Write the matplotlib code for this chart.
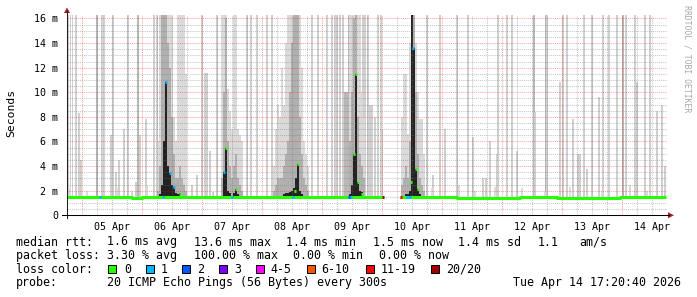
import matplotlib
matplotlib.use("Agg")
import matplotlib.pyplot as plt
from matplotlib.patches import Rectangle, Polygon
from matplotlib.lines import Line2D
import numpy as np

plt.rcParams['font.family'] = ['DejaVu Sans Mono']

# ---------------- data (time in hours since 05 Apr 00:00, rtt in ms) ----------------
day_labels = ["05 Apr", "06 Apr", "07 Apr", "08 Apr", "09 Apr",
              "10 Apr", "11 Apr", "12 Apr", "13 Apr", "14 Apr"]
y_ticks = [0, 2, 4, 6, 8, 10, 12, 14, 16]
y_tick_labels = ["0", "2 m", "4 m", "6 m", "8 m", "10 m", "12 m", "14 m", "16 m"]

# thin smoke lines: time, max rtt, density (1 = few pings high, 2 = several)
line_t = [-5.6, -4.7, -3.9, -2.4, -1.2, -0.4, 6.0, 8.0, 8.8, 11.6, 12.4, 13.6, 14.8,
          16.8, 18.4, 21.6, 22.4, 23.2, 25.6, 28.8, 30.0, 44.0, 46.0, 48.0, 49.2,
          50.0, 51.2, 52.4, 54.0, 66.0, 67.6, 70.0, 74.0, 76.0, 92.0, 94.4, 98.0,
          100.0, 101.2, 102.0, 103.2, 104.4, 105.2, 106.0, 106.8, 112.4, 113.2,
          114.4, 115.2, 116.0, 117.2, 118.4, 119.6, 120.0, 138.0, 140.4, 143.2,
          145.2, 150.0, 154.4, 156.4, 160.4, 161.6, 163.2, 166.0, 166.4, 170.0,
          172.0, 174.0, 180.8, 181.2, 185.6, 186.0, 191.2, 192.4, 194.0, 196.4,
          198.4, 199.2, 200.8, 202.0, 204.0, 206.8, 208.4, 210.8, 214.0, 216.4,
          217.6, 221.2, 222.0, 225.2, 227.2, 230.0, 232.0, 233.2]
line_max = [18, 18, 18, 18, 8.3, 4.5, 18, 18, 18, 6.5, 18, 3.5, 4.5,
            7.0, 18, 2.7, 18, 6.5, 7.8, 18, 18, 2.5, 3.3, 18, 11.6,
            11.6, 5.2, 1.9, 18, 18, 18, 18, 18, 18, 18, 18, 18,
            18, 18, 18, 18, 18, 10, 10, 18, 18, 18,
            18, 9, 9, 8, 18, 18, 7, 18, 3.3, 18,
            7, 18, 18, 6.4, 3, 3, 6, 5, 18, 18,
            18, 5.2, 18, 8.4, 18, 18, 10.8, 18, 18, 7.8,
            5, 5, 18, 3.8, 18, 9.6, 18, 18, 18, 18,
            18, 18, 10.8, 18, 18, 8.5, 9, 4]
line_dens = [1, 1, 1, 1, 1, 1, 2, 1, 1, 1, 1, 1, 1,
             1, 1, 1, 2, 1, 1, 1, 1, 1, 1, 1, 1,
             1, 1, 1, 1, 1, 1, 1, 1, 1, 1, 1, 1,
             1, 1, 1, 1, 1, 2, 2, 2, 1, 1,
             1, 1, 1, 1, 1, 1, 1, 1, 1, 1,
             1, 1, 1, 1, 1, 1, 1, 1, 1, 1,
             1, 1, 2, 1, 2, 1, 1, 1, 1, 1,
             1, 1, 1, 1, 1, 1, 1, 1, 1, 2,
             1, 1, 1, 1, 1, 1, 1, 1]

# low smoke bumps near the baseline
low_t = [-5.0, 2.0, 14.0, 20.0, 26.0, 140.0, 150.8, 157.0, 165.0, 176.0, 185.0,
         195.0, 208.0, 219.0, 226.0]
low_max = [2.2, 2.0, 2.2, 2.0, 2.4, 2.2, 2.5, 2.0, 2.3, 2.2, 2.0, 2.3, 2.0, 2.5, 2.0]

# dense smoke columns during the congestion episodes: time, outer / middle / inner ping tops
col_t = [30.4, 31.2, 32.0, 32.8, 33.6, 34.4, 35.2, 36.0, 36.8, 37.6, 38.4, 39.2, 40.0, 40.8, 41.6,
         56.0, 56.8, 57.6, 58.4, 59.2, 60.0, 60.8, 61.6, 62.4, 63.2, 64.0,
         76.8, 77.6, 78.4, 79.2, 80.0, 80.8, 81.6, 82.4, 83.2, 84.0, 84.8, 85.6, 86.4, 87.2,
         88.0, 88.8, 89.6, 90.4,
         107.2, 108.0, 108.8, 109.6, 110.4, 111.2, 112.0, 112.8,
         128.0, 128.8, 129.6, 130.4, 131.2, 132.0, 132.8, 133.6, 134.4, 135.2, 136.0, 136.8]
col_light = [6, 18, 18, 18, 18, 18, 18, 18, 8, 6, 18, 18, 18, 18, 11.5,
             18, 18, 18, 10.3, 8.5, 7, 18, 18, 7, 6.5, 6,
             4, 7, 9, 8, 12, 9, 14, 18, 18, 18, 18, 18, 18, 18,
             12, 6, 5, 4,
             18, 18, 18, 18, 18, 18, 10, 8,
             8, 11.5, 11.5, 6.6, 14, 18, 18, 14, 10, 7.8, 7.8, 5]
col_mid = [2, 4, 18, 18, 18, 14, 12, 8, 5, 3, 3, 4, 3, 2.5, 2,
           3, 10, 16, 6, 4, 3, 4, 5, 3, 2.5, 2,
           2, 2.5, 3, 3, 3, 4, 5, 6, 10, 14, 18, 18, 18, 8,
           5, 3, 2.5, 2,
           6, 10, 16, 18, 8, 5, 4, 3,
           2.5, 3, 4, 3, 6, 18, 18, 10, 5, 3, 2.5, 2]
col_dark = [1.6, 1.7, 2.5, 6, 10.8, 4, 3.4, 2.5, 2.3, 1.8, 1.7, 1.8, 1.6, 1.6, 1.6,
            1.6, 3.5, 5.5, 2, 1.8, 1.6, 1.8, 2.1, 1.7, 1.6, 1.6,
            1.6, 1.6, 1.6, 1.6, 1.6, 1.7, 1.8, 1.8, 1.9, 2.0, 2.2, 3, 4.2, 2,
            1.7, 1.6, 1.6, 1.6,
            1.7, 2.5, 5.0, 11.5, 2.7, 2.0, 1.9, 1.6,
            1.6, 1.6, 1.7, 1.7, 2, 18, 13.6, 3.8, 2.1, 1.7, 1.6, 1.6]

# median rtt baseline (step knots), NaN = no data
base_t = [-6, 20, 24, 31, 42, 56, 64, 84, 90, 106, 112, 120.4, 127.2, 133, 150, 175,
          190, 215, 233.4]
base_v = [1.45, 1.42, 1.45, 1.48, 1.45, 1.48, 1.45, 1.48, 1.45, 1.5, 1.45, np.nan,
          1.45, 1.45, 1.42, 1.45, 1.42, 1.45, 1.45]

# median values that rose above the baseline, with loss class index
tip_t = [33.6, 35.0, 36.8, 39.2, 56.8, 57.6, 61.6, 85.0, 86.4, 108.8, 109.6, 110.4,
         112.0, 131.6, 132.4, 133.6, 134.4]
tip_v = [10.8, 3.4, 2.3, 1.7, 3.5, 5.5, 2.1, 2.0, 4.2, 5.0, 11.5, 2.7,
         1.7, 2.7, 13.6, 3.8, 2.1]
tip_loss = [1, 1, 1, 0, 1, 0, 0, 0, 0, 0, 0, 0,
            0, 0, 1, 0, 0]

# loss markers on the baseline
mark_t = [7.2, 32.4, 60.0, 84.4, 106.8, 107.6, 120.2, 127.4, 130.0, 130.6, 131.2]
mark_loss = [1, 1, 1, 1, 2, 1, 7, 6, 1, 1, 1]

loss_labels = ["0", "1", "2", "3", "4-5", "6-10", "11-19", "20/20"]
loss_colors = ["#26ff00", "#00b8ff", "#0059ff", "#7e00ff", "#ff00ff",
               "#ff5500", "#ff0000", "#a10000"]

stats_rtt = ["1.6 ms avg", "13.6 ms max", "1.4 ms min", "1.5 ms now", "1.4 ms sd", "1.1", "am/s"]
stats_loss = ["3.30 % avg", "100.00 % max", "0.00 % min", "0.00 % now"]
probe_text = "20 ICMP Echo Pings (56 Bytes) every 300s"
stamp_text = "Tue Apr 14 17:20:40 2026"

# ---------------- figure ----------------
W, H = 697, 297
fig = plt.figure(figsize=(W / 100, H / 100), dpi=100)
fig.patch.set_facecolor("white")
ax_l, ax_r, ax_t, ax_b = 67, 667, 15, 215.3
ax = fig.add_axes([ax_l / W, (H - ax_b) / H, (ax_r - ax_l) / W, (ax_b - ax_t) / H])
ax.set_xlim(-6, 234)
ax.set_ylim(0, 16.28)
for s in ax.spines.values():
    s.set_visible(False)
ax.set_facecolor("white")

floor = 1.3
# thin smoke lines
for t, m, d in zip(line_t, line_max, line_dens):
    ax.bar(t, m - floor, bottom=floor, width=0.6,
           color="#d0d0d0" if d == 1 else "#b8b8b8", linewidth=0, zorder=1)
for t, m in zip(low_t, low_max):
    ax.bar(t, m - floor, bottom=floor, width=0.8, color="#dcdcdc", linewidth=0, zorder=1)
# dense columns
ax.bar(col_t, np.array(col_light) - floor, bottom=floor, width=0.82,
       color="#dadada", linewidth=0, zorder=1.2)
ax.bar(col_t, np.array(col_mid) - floor, bottom=floor, width=0.82,
       color="#b0b0b0", linewidth=0, zorder=1.4)
ax.bar(col_t, np.array(col_dark) - floor, bottom=floor, width=0.82,
       color="#222222", linewidth=0, zorder=1.6)

# grid
dot = (0, (1, 1))
for h in np.arange(-6, 235, 6):
    if h % 24 == 0:
        ax.axvline(h, color=(1, 0, 0, 0.35), lw=0.75, ls=dot, zorder=3)
    elif h > -6:
        ax.axvline(h, color=(0.45, 0.45, 0.45, 0.4), lw=0.75, ls=dot, zorder=3)
for v in np.arange(0.5, 16.3, 0.5):
    if abs(v % 2) < 1e-9:
        ax.axhline(v, color=(1, 0, 0, 0.35), lw=0.75, ls=dot, zorder=3)
    else:
        ax.axhline(v, color=(0.45, 0.45, 0.45, 0.4), lw=0.75, ls=dot, zorder=3)

# median baseline
ax.plot(base_t, base_v, drawstyle="steps-post", color=loss_colors[0], lw=2.2,
        solid_capstyle="butt", zorder=4)
for t, l in zip(mark_t, mark_loss):
    ax.hlines(1.45, t - 0.4, t + 0.4, color=loss_colors[l], lw=2.2, zorder=4.5)
for t, v, l in zip(tip_t, tip_v, tip_loss):
    ax.hlines(v, t - 0.4, t + 0.4, color=loss_colors[l], lw=2.2, zorder=4.5)

# ticks
ax.set_yticks(y_ticks)
ax.set_yticklabels(y_tick_labels, fontsize=7.2)
ax.set_xticks([12 + 24 * i for i in range(len(day_labels))])
ax.set_xticklabels(day_labels, fontsize=7.2)
ax.tick_params(axis="both", length=0)
ax.tick_params(axis="y", pad=6.5)
ax.tick_params(axis="x", pad=4.5)

# axes lines and arrows (pixel coords -> figure fraction)
def fx(px):
    return px / W

def fy(py):
    return 1 - py / H

fig.add_artist(Line2D([fx(67), fx(67)], [fy(218), fy(11)], color="#202020", lw=0.75))
fig.add_artist(Line2D([fx(62), fx(669)], [fy(215.3), fy(215.3)], color="black", lw=0.75))
fig.add_artist(Polygon([[fx(64), fy(13)], [fx(70), fy(13)], [fx(67), fy(7.5)]],
                       closed=True, color="#a01e1e", lw=0))
fig.add_artist(Polygon([[fx(668), fy(212.3)], [fx(668), fy(218.3)], [fx(674), fy(215.3)]],
                       closed=True, color="#a01e1e", lw=0))

# y label and watermark
fig.text(fx(11), fy(113), "Seconds", rotation=90, ha="center", va="center", fontsize=8.2)
fig.text(fx(687), fy(5), "RRDTOOL / TOBI OETIKER", rotation=270, ha="center", va="top",
         fontsize=5.9, color="#a8a8a8")

# legend
fs = 8.4
rows = [242, 255.5, 269.3, 282.8]
fig.text(fx(16), fy(rows[0]), "median rtt:", fontsize=fs, va="center")
for x, s in zip([107, 194, 286, 372.7, 458, 538, 579], stats_rtt):
    fig.text(fx(x), fy(rows[0]), s, fontsize=fs, va="center")
fig.text(fx(16), fy(rows[1]), "packet loss:", fontsize=fs, va="center")
for x, s in zip([107, 194, 292.7, 379], stats_loss):
    fig.text(fx(x), fy(rows[1]), s, fontsize=fs, va="center")
fig.text(fx(16), fy(rows[2]), "loss color:", fontsize=fs, va="center")
box_x = [108, 145.7, 182.3, 219.3, 256, 307, 365.7, 431]
lab_x = [124, 160.7, 197, 234, 270.7, 321.7, 380.7, 446]
for bx, lx, c, lab in zip(box_x, lab_x, loss_colors, loss_labels):
    fig.add_artist(Rectangle((fx(bx), fy(273.3)), 8 / W, 8 / H, facecolor=c,
                             edgecolor="black", lw=0.7))
    fig.text(fx(lx), fy(rows[2]), lab, fontsize=fs, va="center")
fig.text(fx(16), fy(rows[3]), "probe:", fontsize=fs, va="center")
fig.text(fx(107.3), fy(rows[3]), probe_text, fontsize=fs, va="center")
fig.text(fx(513.3), fy(rows[3]), stamp_text, fontsize=fs, va="center")

fig.savefig("out.png", dpi=100, facecolor="white")
